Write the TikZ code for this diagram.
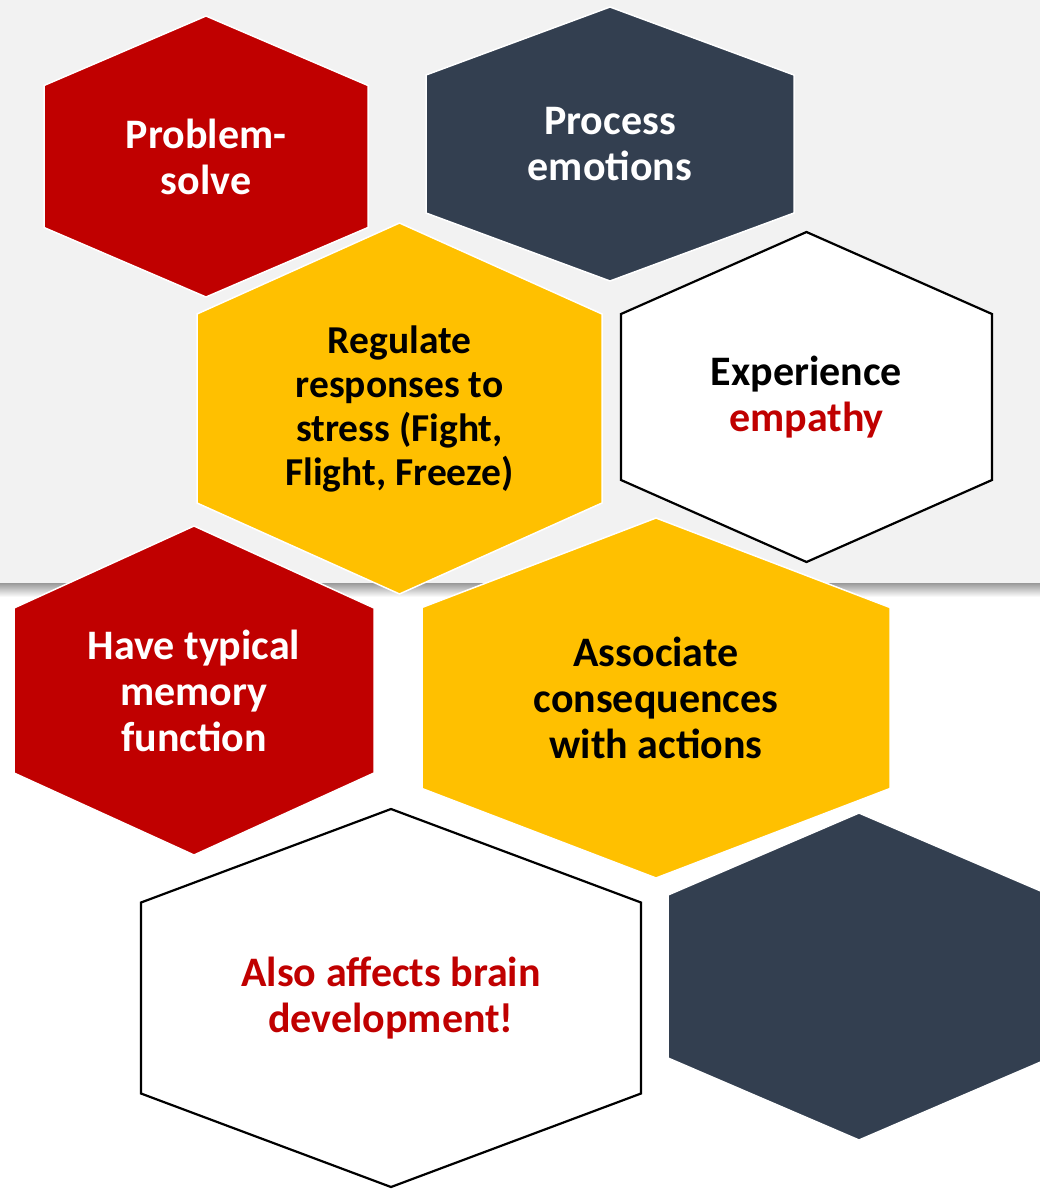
\documentclass[tikz,border=0pt]{standalone}
\usepackage{fontspec}
\setmainfont{Carlito}
\usepackage{tikz}
\usetikzlibrary{positioning,calc}
\definecolor{HexRed}{HTML}{C00000}
\definecolor{HexNavy}{HTML}{333F50}
\definecolor{HexGold}{HTML}{FFC000}
\definecolor{HexGray}{HTML}{F2F2F2}

\begin{document}
\begin{tikzpicture}[x=1pt,y=-1pt,
    redcell/.style={fill=HexRed,draw=white,line width=1.5pt},
    navycell/.style={fill=HexNavy,draw=white,line width=1.5pt},
    goldcell/.style={fill=HexGold,draw=white,line width=1.5pt},
    opencell/.style={fill=white,draw=black,line width=2.2pt},
    hextext/.style={align=center,inner sep=0pt,font=\fontsize{42}{46}\selectfont\bfseries}]
  \clip (0,0) rectangle (1040,1189);
  % backdrop
  \fill[white] (0,0) rectangle (1040,1189);
  \fill[HexGray] (0,0) rectangle (1040,583);
  \shade[top color=black!40,bottom color=white] (0,583) rectangle (1040,597);
  % name, cx, cy, half width, half height, half side, style, text
  \def\hexcell#1#2#3#4#5#6#7#8{
    \filldraw[#7] (#2,#3-#5) -- (#2+#4,#3-#6) -- (#2+#4,#3+#6) -- (#2,#3+#5)
      -- (#2-#4,#3+#6) -- (#2-#4,#3-#6) -- cycle;
    \node[hextext] (#1) at (#2,#3) {#8};
  }
  \hexcell{solve}{206}{156.5}{162}{140.5}{71}{redcell}{\textcolor{white}{Problem-}\\\textcolor{white}{solve}}
  \hexcell{emotions}{610}{144}{184}{137}{69}{navycell}{\textcolor{white}{Process}\\\textcolor{white}{emotions}}
  \begin{scope}[hextext/.append style={font=\fontsize{39.5}{44}\selectfont\bfseries}]
    \hexcell{regulate}{399.5}{408.5}{202.5}{185.5}{94.5}{goldcell}{Regulate\\responses to\\stress (Fight,\\Flight, Freeze)}
  \end{scope}
  \hexcell{empathy}{806.5}{397}{185.5}{165}{83}{opencell}{Experience\\\textcolor{HexRed}{empathy}}
  \hexcell{memory}{194}{690.5}{180}{164.5}{82.5}{redcell}{\textcolor{white}{Have typical}\\\textcolor{white}{memory}\\\textcolor{white}{function}}
  \hexcell{consequences}{656}{698}{234}{180}{90.5}{goldcell}{Associate\\consequences\\with actions}
  \hexcell{brain}{391}{998}{250}{189}{95.5}{opencell}{\textcolor{HexRed}{Also affects brain}\\\textcolor{HexRed}{development!}}
  \hexcell{blank}{859}{976.5}{191}{163.5}{81.5}{navycell}{}
\end{tikzpicture}
\end{document}
